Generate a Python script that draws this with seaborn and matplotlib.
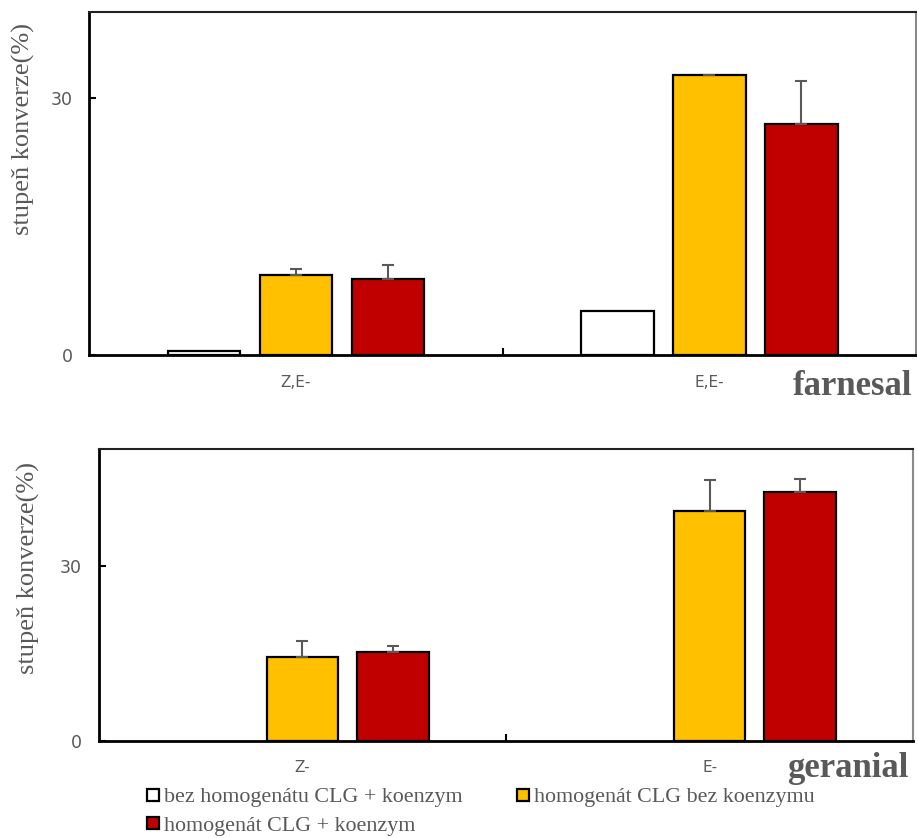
import numpy as np
import pandas as pd
import seaborn as sns
import matplotlib
matplotlib.use("Agg")
import matplotlib.pyplot as plt
from matplotlib.lines import Line2D

# ---- data ----
series = ["bez homogenátu CLG + koenzym",
          "homogenát CLG bez koenzymu",
          "homogenát CLG + koenzym"]
colors = ["#FFFFFF", "#FFC000", "#C00000"]

farnesal_isomers = ["Z,E-", "E,E-"]
farnesal_white = [0.5, 5.2]
farnesal_yellow = [9.4, 32.6]
farnesal_red = [8.9, 26.9]
farnesal_white_err = [0.0, 0.0]
farnesal_yellow_err = [0.6, 0.1]
farnesal_red_err = [1.6, 5.1]

geranial_isomers = ["Z-", "E-"]
geranial_white = [np.nan, np.nan]
geranial_yellow = [14.3, 39.3]
geranial_red = [15.3, 42.7]
geranial_white_err = [0.0, 0.0]
geranial_yellow_err = [2.8, 5.4]
geranial_red_err = [0.9, 2.2]

y_ticks_top = [0, 30]
y_ticks_bottom = [0, 30]
ylabel = "stupeň konverze(%)"

GRAY = "#595959"


def long_table(isomers, vals, errs):
    rows = []
    for s, v, e in zip(series, vals, errs):
        for iso, val, err in zip(isomers, v, e):
            rows.append({"isomer": iso, "series": s, "value": val, "err": err})
    return pd.DataFrame(rows)


df_top = long_table(farnesal_isomers,
                    [farnesal_white, farnesal_yellow, farnesal_red],
                    [farnesal_white_err, farnesal_yellow_err, farnesal_red_err])
df_bot = long_table(geranial_isomers,
                    [geranial_white, geranial_yellow, geranial_red],
                    [geranial_white_err, geranial_yellow_err, geranial_red_err])

sns.set_style("white")
plt.rcParams["font.family"] = ["DejaVu Sans"]

fig = plt.figure(figsize=(9.17, 8.38), dpi=100)
ax1 = fig.add_axes([0.0974, 0.576, 0.9015, 0.4097])
ax2 = fig.add_axes([0.1076, 0.1158, 0.8884, 0.3484])


def draw_panel(ax, df, isomers, ymax, yticks, name, name_xy, label_xy):
    sns.barplot(data=df, x="isomer", y="value", hue="series",
                hue_order=series, order=isomers, palette=colors,
                saturation=1, width=0.6675, gap=0.21, edgecolor="black",
                linewidth=1.6, errorbar=None, legend=False, ax=ax)
    # one-sided error bars, centred on each bar
    for p in ax.patches:
        h = p.get_height()
        if not np.isfinite(h):
            continue
        xc = p.get_x() + p.get_width() / 2
        match = df[(np.isclose(df["value"], h))]
        if match.empty:
            continue
        err = float(match["err"].iloc[0])
        if err > 0:
            ax.errorbar(xc, h, yerr=[[0], [err]], fmt="none", ecolor=GRAY,
                        elinewidth=1.5, capsize=4.5, capthick=1.5, zorder=1)
    ax.set_xlim(-0.5, 1.5)
    ax.set_ylim(0, ymax)
    ax.set_yticks(yticks)
    ax.set_yticklabels([str(t) for t in yticks])
    ax.set_xticks(range(len(isomers)))
    ax.set_xticklabels(isomers)
    ax.set_xticks([0.5], minor=True)
    ax.tick_params(axis="x", which="major", length=0, pad=14,
                   labelsize=11, labelcolor=GRAY)
    ax.tick_params(axis="x", which="minor", direction="in", length=5,
                   width=1.5, color="black", bottom=True)
    ax.tick_params(axis="y", which="major", direction="in", length=5,
                   width=1.5, color="black", left=True, pad=12,
                   labelsize=12.5, labelcolor=GRAY)
    ax.set_xlabel("")
    ax.set_ylabel(ylabel, family="Liberation Serif", fontsize=19,
                  color=GRAY)
    ax.yaxis.set_label_coords(*label_xy)
    for side in ["left", "bottom"]:
        ax.spines[side].set_color("black")
        ax.spines[side].set_linewidth(2)
    ax.spines["top"].set_color("#222222")
    ax.spines["top"].set_linewidth(1.5)
    ax.spines["right"].set_color("#8a8a8a")
    ax.spines["right"].set_linewidth(1.5)
    fig.text(name_xy[0], name_xy[1], name, family="Liberation Serif",
             fontweight="bold", fontsize=25, color=GRAY,
             ha="right", va="baseline")


draw_panel(ax1, df_top, farnesal_isomers, 40, y_ticks_top, "farnesal",
           (912 / 917, 1 - 395 / 838), (-0.066, 0.659))
draw_panel(ax2, df_bot, geranial_isomers, 50, y_ticks_bottom, "geranial",
           (908 / 917, 1 - 777 / 838), (-0.072, 0.592))

# legend: squares, filled column-wise
order = [0, 2, 1]
handles = [Line2D([], [], linestyle="none", marker="s", markersize=8.6,
                  markerfacecolor=colors[i], markeredgecolor="black",
                  markeredgewidth=1.6) for i in order]
labels = [series[i] for i in order]
fig.legend(handles, labels, ncol=2, loc="upper left",
           bbox_to_anchor=(146 / 917, 1 - 787 / 838), frameon=False,
           prop={"family": "Liberation Serif", "size": 15.8},
           labelcolor=GRAY, handlelength=0.6, handletextpad=0.2,
           columnspacing=2.45, labelspacing=0.38, borderpad=0,
           borderaxespad=0)

fig.savefig("out.png", dpi=100, facecolor="white")
